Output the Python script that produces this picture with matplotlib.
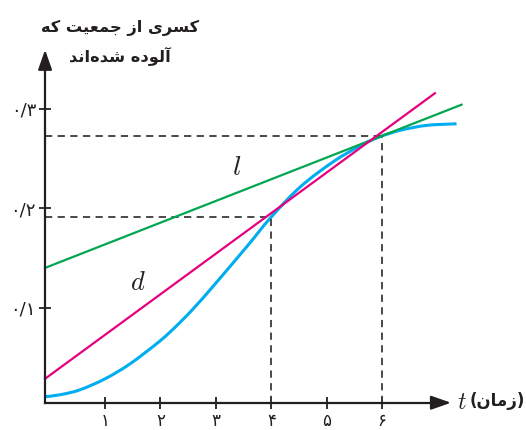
import matplotlib
matplotlib.use('Agg')
import matplotlib.pyplot as plt
from matplotlib.path import Path
from matplotlib.patches import PathPatch

plt.rcParams['font.family'] = ['DejaVu Sans']
plt.rcParams['mathtext.fontset'] = 'cm'

# --- data ---
# fraction of infected population over time (smooth curve, read point by point)
t_curve = [-0.08, 0.19, 0.55, 1.00, 1.45, 1.99, 2.35, 2.65, 2.95, 3.56, 3.98,
           4.52, 5.12, 5.60, 5.93, 6.32, 6.80, 7.34]
y_curve = [0.0106, 0.0125, 0.0175, 0.0285, 0.0435, 0.0665, 0.0850, 0.1025,
           0.1215, 0.1615, 0.190, 0.2213, 0.2468, 0.2626, 0.2712, 0.2782,
           0.2832, 0.2848]
# secant line d and tangent line l (end points)
d_t = [-0.08, 6.95]
d_y = [0.0286, 0.3155]
l_t = [-0.08, 7.43]
l_y = [0.140, 0.304]
# marked points on the curve
mark_t = [4, 6]
mark_y = [0.1915, 0.273]

x_ticks = [1, 2, 3, 4, 5, 6]
x_labels = ['۱', '۲', '۳', '۴', '۵', '۶']
y_ticks = [0.1, 0.2, 0.3]
y_labels = ['۰/۱', '۰/۲', '۰/۳']

title_lines = ['کسری از جمعیت که', 'آلوده شده\u200cاند']
x_word = 'زمان'

# --- simple Persian shaping (matplotlib draws glyphs left to right) ---
FORMS = {  # isolated, final, initial, medial
    'ا': ('\uFE8D', '\uFE8E', None, None),
    'آ': ('\uFE81', '\uFE82', None, None),
    'ت': ('\uFE95', '\uFE96', '\uFE97', '\uFE98'),
    'ج': ('\uFE9D', '\uFE9E', '\uFE9F', '\uFEA0'),
    'د': ('\uFEA9', '\uFEAA', None, None),
    'ر': ('\uFEAD', '\uFEAE', None, None),
    'ز': ('\uFEAF', '\uFEB0', None, None),
    'س': ('\uFEB1', '\uFEB2', '\uFEB3', '\uFEB4'),
    'ش': ('\uFEB5', '\uFEB6', '\uFEB7', '\uFEB8'),
    'ع': ('\uFEC9', '\uFECA', '\uFECB', '\uFECC'),
    'ل': ('\uFEDD', '\uFEDE', '\uFEDF', '\uFEE0'),
    'م': ('\uFEE1', '\uFEE2', '\uFEE3', '\uFEE4'),
    'ن': ('\uFEE5', '\uFEE6', '\uFEE7', '\uFEE8'),
    'ه': ('\uFEE9', '\uFEEA', '\uFEEB', '\uFEEC'),
    'و': ('\uFEED', '\uFEEE', None, None),
    'ی': ('\uFBFC', '\uFBFD', '\uFBFE', '\uFBFF'),
    'ک': ('\uFB8E', '\uFB8F', '\uFB90', '\uFB91'),
}


def dual(c):
    return c in FORMS and FORMS[c][2] is not None


def shape(text):
    out = []
    for i, c in enumerate(text):
        if c not in FORMS:
            if c != '\u200c':
                out.append(c)
            continue
        prev = text[i - 1] if i > 0 else ''
        nxt = text[i + 1] if i + 1 < len(text) else ''
        jp = dual(prev)
        jn = dual(c) and nxt in FORMS
        iso, fin, ini, med = FORMS[c]
        if jp and jn:
            out.append(med)
        elif jp:
            out.append(fin)
        elif jn:
            out.append(ini)
        else:
            out.append(iso)
    return ''.join(reversed(out))


def smooth_path(xs, ys):
    # cubic Bezier segments through every point (Catmull-Rom handles)
    pts = list(zip(xs, ys))
    n = len(pts)
    verts = [pts[0]]
    codes = [Path.MOVETO]
    for i in range(n - 1):
        p0 = pts[max(i - 1, 0)]
        p1 = pts[i]
        p2 = pts[i + 1]
        p3 = pts[min(i + 2, n - 1)]
        c1 = (p1[0] + (p2[0] - p0[0]) / 6, p1[1] + (p2[1] - p0[1]) / 6)
        c2 = (p2[0] - (p3[0] - p1[0]) / 6, p2[1] - (p3[1] - p1[1]) / 6)
        verts += [c1, c2, p2]
        codes += [Path.CURVE4] * 3
    return Path(verts, codes)


ink = '#231f20'
fig = plt.figure(figsize=(5.26, 4.30), dpi=100)
ax = fig.add_axes([0, 0, 1, 1])
ax.set_xlim(-0.8925, 8.592)
ax.set_ylim(-0.0229, 0.4092)
ax.patch.set_visible(False)

x0, y0 = -0.08, 0.0045
for s in ['top', 'right']:
    ax.spines[s].set_visible(False)
ax.spines['left'].set_position(('data', x0))
ax.spines['bottom'].set_position(('data', y0))
ax.spines['left'].set_bounds(y0, 0.35)
ax.spines['bottom'].set_bounds(x0, 7.1)
for s in ['left', 'bottom']:
    ax.spines[s].set_linewidth(1.6)
    ax.spines[s].set_color(ink)

# arrow heads
ax.annotate('', xy=(7.29, y0), xytext=(7.0, y0),
            arrowprops=dict(arrowstyle='-|>,head_length=1.2,head_width=0.42',
                            color=ink, lw=1.6, mutation_scale=10))
ax.annotate('', xy=(x0, 0.362), xytext=(x0, 0.335),
            arrowprops=dict(arrowstyle='-|>,head_length=1.2,head_width=0.42',
                            color=ink, lw=1.6, mutation_scale=10))

ax.set_xticks(x_ticks)
ax.set_xticklabels(x_labels, fontsize=12, color=ink)
ax.set_yticks(y_ticks)
ax.set_yticklabels(y_labels, fontsize=13, color=ink)
ax.tick_params(axis='x', direction='inout', length=8, width=1.3, color=ink, pad=3)
ax.tick_params(axis='y', direction='inout', length=9, width=1.3, color=ink, pad=2)

# dashed guides to the marked points
for t, y in zip(mark_t, mark_y):
    ax.plot([x0, t], [y, y], ls=(0, (4, 3)), color='#3a3a3a', lw=1.3)
    ax.plot([t, t], [y0, y], ls=(0, (4, 3)), color='#3a3a3a', lw=1.3)

ax.plot(l_t, l_y, color='#00a651', lw=1.6, clip_on=False)
ax.plot(d_t, d_y, color='#e6007e', lw=1.6, clip_on=False)
ax.add_patch(PathPatch(smooth_path(t_curve, y_curve), facecolor='none',
                       edgecolor='#00aeef', lw=2.2, capstyle='butt',
                       clip_on=False))

ax.text(3.38, 0.2418, '$l$', fontsize=20, ha='center', va='center', color=ink)
ax.text(1.60, 0.1248, '$d$', fontsize=19, ha='center', va='center', color=ink)

# axis titles
ax.text(7.44, 0.0048, '$t$', fontsize=17, ha='center', va='center', color=ink)
ax.text(470 / 526, 1 - 401 / 430, '(' + shape(x_word) + ')', transform=ax.transAxes,
        fontsize=12, fontweight='bold', ha='left', va='center', color=ink)
ax.text(120 / 526, 1 - 28 / 430, shape(title_lines[0]), transform=ax.transAxes,
        fontsize=11.7, fontweight='bold', ha='center', va='center', color=ink)
ax.text(120 / 526, 1 - 57 / 430, shape(title_lines[1]), transform=ax.transAxes,
        fontsize=11.7, fontweight='bold', ha='center', va='center', color=ink)

fig.savefig('out.png', dpi=100)
